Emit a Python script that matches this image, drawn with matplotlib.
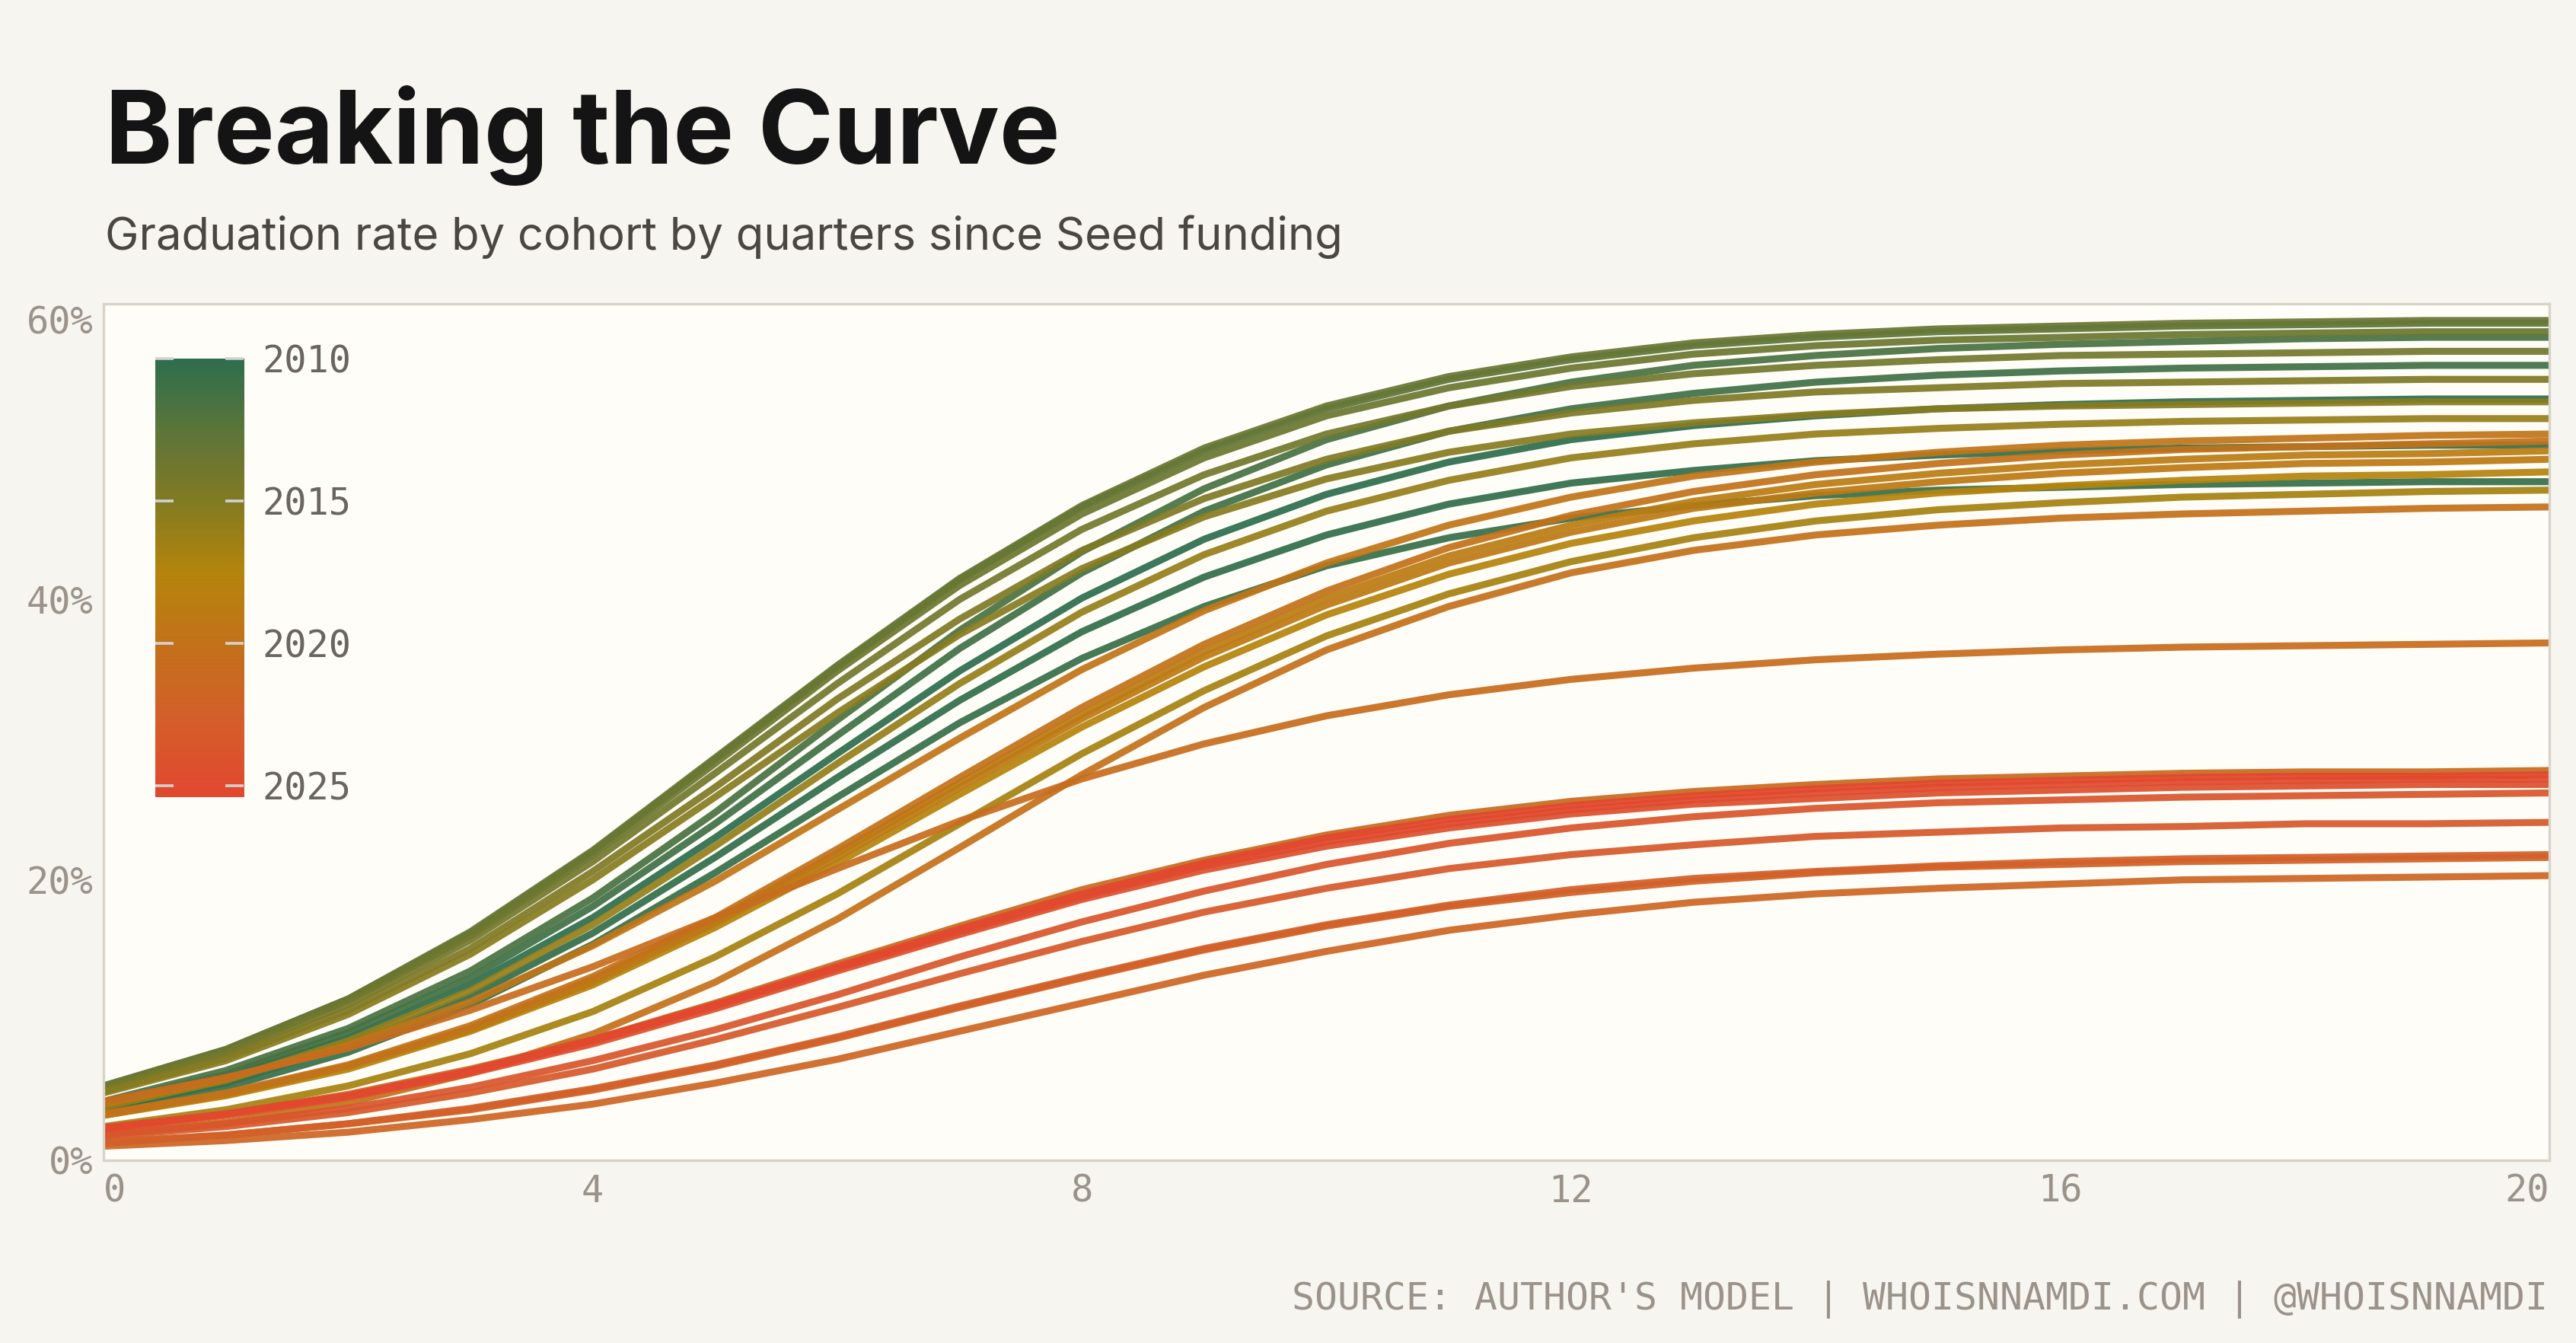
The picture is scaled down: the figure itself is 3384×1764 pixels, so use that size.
import matplotlib
matplotlib.use("Agg")
import numpy as np
import matplotlib.pyplot as plt
from matplotlib.colors import LinearSegmentedColormap, Normalize

plt.rcParams["font.family"] = ["DejaVu Sans Mono"]

quarters = list(range(21))

# graduation rate (%) by quarter since seed, one list per cohort (decimal year)
c2010_0 = [3.9, 5.9, 8.7, 12.5, 17.3, 23.0, 29.0, 34.9, 40.1, 44.3, 47.5, 49.8, 51.4, 52.4, 53.1, 53.6, 53.9, 54.1, 54.2, 54.3, 54.3]
c2010_3 = [3.7, 5.5, 8.2, 11.7, 16.2, 21.6, 27.3, 32.8, 37.7, 41.6, 44.6, 46.8, 48.3, 49.2, 49.9, 50.3, 50.6, 50.8, 50.9, 51.0, 51.0]
c2010_6 = [3.5, 5.2, 7.7, 11.1, 15.4, 20.5, 25.9, 31.2, 35.8, 39.5, 42.4, 44.4, 45.8, 46.7, 47.4, 47.8, 48.0, 48.2, 48.3, 48.4, 48.4]
c2011_0 = [4.1, 6.1, 9.1, 13.0, 18.1, 24.0, 30.3, 36.5, 41.9, 46.3, 49.6, 52.0, 53.6, 54.7, 55.5, 56.0, 56.3, 56.5, 56.6, 56.7, 56.7]
c2011_5 = [4.2, 6.4, 9.4, 13.5, 18.7, 24.8, 31.4, 37.8, 43.4, 47.9, 51.4, 53.8, 55.5, 56.7, 57.4, 57.9, 58.2, 58.4, 58.6, 58.7, 58.7]
c2012_6 = [5.3, 7.9, 11.5, 16.2, 22.0, 28.6, 35.2, 41.4, 46.6, 50.6, 53.6, 55.7, 57.1, 58.1, 58.7, 59.1, 59.3, 59.5, 59.6, 59.7, 59.7]
c2013_2 = [5.3, 7.9, 11.5, 16.3, 22.1, 28.7, 35.3, 41.5, 46.7, 50.8, 53.8, 55.9, 57.3, 58.3, 58.9, 59.3, 59.5, 59.7, 59.8, 59.9, 59.9]
c2013_6 = [5.2, 7.8, 11.4, 16.0, 21.8, 28.3, 34.9, 41.0, 46.1, 50.1, 53.1, 55.1, 56.5, 57.5, 58.1, 58.5, 58.7, 58.9, 59.0, 59.1, 59.1]
c2014_0 = [5.1, 7.6, 11.1, 15.7, 21.3, 27.6, 34.0, 40.0, 45.0, 48.9, 51.8, 53.8, 55.2, 56.1, 56.7, 57.1, 57.4, 57.5, 57.6, 57.7, 57.7]
c2014_8 = [4.9, 7.3, 10.7, 15.1, 20.6, 26.6, 32.9, 38.6, 43.5, 47.2, 50.0, 52.0, 53.3, 54.2, 54.8, 55.1, 55.4, 55.5, 55.6, 55.7, 55.7]
c2015_3 = [4.8, 7.1, 10.4, 14.7, 20.0, 25.9, 31.9, 37.5, 42.2, 45.9, 48.6, 50.5, 51.8, 52.6, 53.2, 53.6, 53.8, 53.9, 54.0, 54.1, 54.1]
c2016_0 = [3.8, 5.7, 8.5, 12.1, 16.8, 22.4, 28.3, 34.0, 39.1, 43.2, 46.3, 48.5, 50.1, 51.1, 51.8, 52.2, 52.5, 52.7, 52.8, 52.9, 52.9]
c2016_8 = [2.4, 3.6, 5.3, 7.6, 10.6, 14.5, 19.0, 24.0, 29.0, 33.5, 37.4, 40.4, 42.7, 44.4, 45.6, 46.4, 46.9, 47.3, 47.5, 47.7, 47.8]
c2017_6 = [3.2, 4.6, 6.5, 9.2, 12.5, 16.6, 21.2, 26.1, 30.9, 35.2, 38.9, 41.8, 44.0, 45.6, 46.8, 47.6, 48.1, 48.5, 48.8, 48.9, 49.1]
c2018_6 = [3.3, 4.7, 6.7, 9.4, 12.9, 17.1, 21.9, 26.9, 31.8, 36.3, 40.1, 43.1, 45.3, 47.0, 48.2, 49.0, 49.6, 50.0, 50.3, 50.4, 50.6]
c2019_0 = [3.2, 4.7, 6.7, 9.3, 12.7, 16.9, 21.6, 26.6, 31.5, 35.9, 39.6, 42.6, 44.8, 46.5, 47.6, 48.4, 49.0, 49.4, 49.7, 49.8, 50.0]
c2019_6 = [4.0, 5.8, 8.2, 11.3, 15.3, 19.9, 25.0, 30.1, 35.0, 39.2, 42.6, 45.3, 47.3, 48.8, 49.8, 50.5, 51.0, 51.3, 51.5, 51.7, 51.8]
c2020_0 = [3.3, 4.8, 6.8, 9.6, 13.1, 17.3, 22.2, 27.3, 32.3, 36.8, 40.6, 43.7, 46.0, 47.7, 48.9, 49.7, 50.3, 50.7, 50.9, 51.1, 51.3]
c2020_2 = [1.8, 2.7, 4.1, 6.2, 9.0, 12.7, 17.2, 22.3, 27.5, 32.3, 36.4, 39.5, 41.9, 43.5, 44.6, 45.3, 45.8, 46.1, 46.3, 46.5, 46.6]
c2020_6 = [4.2, 5.9, 8.0, 10.7, 13.8, 17.3, 20.8, 24.2, 27.2, 29.7, 31.7, 33.2, 34.3, 35.1, 35.7, 36.1, 36.4, 36.6, 36.7, 36.8, 36.9]
c2020_9 = [2.3, 3.3, 4.7, 6.5, 8.6, 11.2, 14.0, 16.7, 19.3, 21.4, 23.2, 24.6, 25.6, 26.3, 26.8, 27.2, 27.4, 27.6, 27.7, 27.7, 27.8]
c2021_7 = [1.0, 1.4, 2.0, 2.9, 4.0, 5.5, 7.2, 9.2, 11.2, 13.2, 14.9, 16.4, 17.5, 18.4, 19.0, 19.4, 19.7, 20.0, 20.1, 20.2, 20.3]
c2022_1 = [1.2, 1.8, 2.6, 3.6, 5.0, 6.7, 8.7, 10.9, 13.0, 15.0, 16.7, 18.1, 19.1, 19.9, 20.5, 20.9, 21.1, 21.3, 21.4, 21.5, 21.6]
c2022_5 = [1.3, 1.8, 2.6, 3.7, 5.1, 6.8, 8.8, 11.0, 13.1, 15.1, 16.8, 18.2, 19.3, 20.1, 20.6, 21.0, 21.3, 21.5, 21.6, 21.7, 21.8]
c2023_0 = [1.7, 2.4, 3.4, 4.8, 6.5, 8.6, 10.9, 13.3, 15.6, 17.7, 19.4, 20.8, 21.8, 22.5, 23.1, 23.4, 23.7, 23.8, 24.0, 24.0, 24.1]
c2023_6 = [1.8, 2.6, 3.7, 5.2, 7.1, 9.3, 11.8, 14.5, 17.0, 19.2, 21.1, 22.6, 23.7, 24.5, 25.1, 25.5, 25.7, 25.9, 26.0, 26.1, 26.2]
c2024_4 = [2.2, 3.2, 4.5, 6.2, 8.3, 10.8, 13.5, 16.1, 18.6, 20.7, 22.4, 23.7, 24.7, 25.4, 25.8, 26.2, 26.4, 26.6, 26.7, 26.8, 26.8]
c2025_0 = [2.3, 3.3, 4.6, 6.3, 8.5, 11.0, 13.7, 16.3, 18.8, 21.0, 22.7, 24.0, 25.0, 25.7, 26.2, 26.6, 26.8, 27.0, 27.1, 27.2, 27.2]
c2025_4 = [2.3, 3.3, 4.6, 6.4, 8.6, 11.1, 13.8, 16.5, 19.0, 21.2, 23.0, 24.3, 25.3, 26.0, 26.5, 26.9, 27.1, 27.3, 27.4, 27.4, 27.5]

cohorts = [2010.0, 2010.3, 2010.6, 2011.0, 2011.5, 2012.6, 2013.2, 2013.6, 2014.0, 2014.8,
           2015.3, 2016.0, 2016.8, 2017.6, 2018.6, 2019.0, 2019.6, 2020.0, 2020.2, 2020.6,
           2020.9, 2021.7, 2022.1, 2022.5, 2023.0, 2023.6, 2024.4, 2025.0, 2025.4]
series = [c2010_0, c2010_3, c2010_6, c2011_0, c2011_5, c2012_6, c2013_2, c2013_6, c2014_0, c2014_8,
          c2015_3, c2016_0, c2016_8, c2017_6, c2018_6, c2019_0, c2019_6, c2020_0, c2020_2, c2020_6,
          c2020_9, c2021_7, c2022_1, c2022_5, c2023_0, c2023_6, c2024_4, c2025_0, c2025_4]

cbar_ticks = [2010, 2015, 2020, 2025]
y_ticks = [0, 20, 40, 60]
x_ticks = [0, 4, 8, 12, 16, 20]

# colour scale: green -> olive -> gold -> orange -> red
vmin, vmax = 2010, 2025.4
stop_years = [2010, 2012.5, 2015, 2017.5, 2020, 2022.5, 2025, 2025.4]
stop_cols = ["#2e6e4e", "#5c753a", "#827b24", "#b5850c", "#c3721a", "#d3602a", "#e04b2f", "#e2482e"]
cmap = LinearSegmentedColormap.from_list(
    "curve", [((y - vmin) / (vmax - vmin), c) for y, c in zip(stop_years, stop_cols)])
norm = Normalize(vmin, vmax)

BG = "#f7f5f0"
PANEL = "#fffdf8"
SPINE = "#d9d3c7"
TICK = "#9b938a"

fig = plt.figure(figsize=(16.92, 8.82), dpi=200, facecolor=BG)
ax = fig.add_axes([0.0402, 0.1361, 0.9495, 0.6378], facecolor=PANEL)

for c, vals in zip(cohorts, series):
    ax.plot(quarters, vals, color=cmap(norm(c)), lw=3.3, alpha=0.93,
            solid_joinstyle="round", zorder=2)

ax.set_xlim(0, 20)
ax.set_ylim(0, 61.1)
ax.set_xticks(x_ticks)
ax.set_yticks(y_ticks)
ax.set_yticklabels([f"{v}%" for v in y_ticks])
ax.tick_params(length=0, labelsize=17.5, labelcolor=TICK)
ax.tick_params(axis="x", pad=6)
ax.tick_params(axis="y", pad=5)
xl = ax.get_xticklabels()
xl[0].set_ha("left")
xl[-1].set_ha("right")
for s in ax.spines.values():
    s.set_color(SPINE)
    s.set_linewidth(1.2)

# colour legend
cax = fig.add_axes([0.0603, 0.4065, 0.0343, 0.3265])
grad = np.linspace(vmin, vmax, 256).reshape(-1, 1)
cax.imshow(grad, aspect="auto", cmap=cmap, norm=norm, extent=[0, 1, vmax, vmin])
cax.set_xticks([])
cax.set_yticks(cbar_ticks)
cax.set_yticklabels([str(t) for t in cbar_ticks])
cax.tick_params(axis="y", direction="in", length=8.6, width=1.3, color="#d2d2d2",
                left=True, right=True, labelleft=False, labelright=True,
                pad=8.6, labelsize=17.5, labelcolor="#6b6560")
for s in cax.spines.values():
    s.set_visible(False)

fig.text(0.0408, 0.878, "Breaking the Curve", family="Inter", weight="bold",
         fontsize=48.2, color="#141414", ha="left", va="baseline")
fig.text(0.0408, 0.814, "Graduation rate by cohort by quarters since Seed funding",
         family="Inter", fontsize=21.5, color="#4a4642", ha="left", va="baseline")
fig.text(0.989, 0.025, "SOURCE: AUTHOR'S MODEL | WHOISNNAMDI.COM | @WHOISNNAMDI",
         fontsize=17.9, color=TICK, ha="right", va="baseline")

fig.savefig("out.png", dpi=200, facecolor=BG)
